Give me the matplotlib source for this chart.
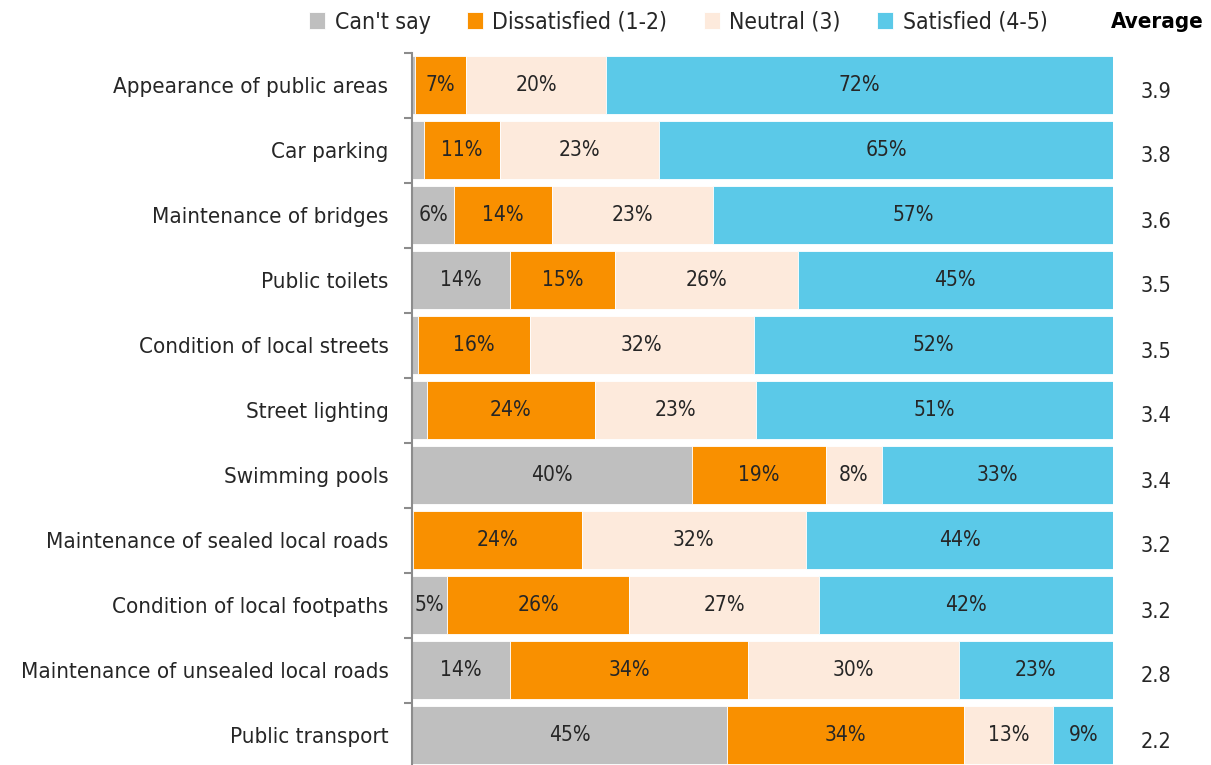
import matplotlib
matplotlib.use("Agg")
import matplotlib.pyplot as plt
from matplotlib import font_manager as fm
import numpy as np

categories = ["Appearance of public areas", "Car parking", "Maintenance of bridges",
              "Public toilets", "Condition of local streets", "Street lighting",
              "Swimming pools", "Maintenance of sealed local roads",
              "Condition of local footpaths", "Maintenance of unsealed local roads",
              "Public transport"]
# segment widths (percent)
cant_say     = [0.4, 1.7, 6, 14, 0.8, 2.1, 40, 0.2, 5, 14, 45]
dissatisfied = [7.3, 10.8, 14, 15, 16, 24, 19, 24, 26, 34, 33.7]
neutral      = [20, 22.8, 23, 26, 32, 23, 8, 32, 27, 30, 12.8]
satisfied    = [72.3, 64.7, 57, 45, 51.2, 50.9, 33, 43.8, 42, 22, 8.5]
# printed labels (rounded values shown on the chart)
cant_say_lbl     = [None, None, "6%", "14%", None, None, "40%", None, "5%", "14%", "45%"]
dissatisfied_lbl = ["7%", "11%", "14%", "15%", "16%", "24%", "19%", "24%", "26%", "34%", "34%"]
neutral_lbl      = ["20%", "23%", "23%", "26%", "32%", "23%", "8%", "32%", "27%", "30%", "13%"]
satisfied_lbl    = ["72%", "65%", "57%", "45%", "52%", "51%", "33%", "44%", "42%", "23%", "9%"]
averages     = ["3.9", "3.8", "3.6", "3.5", "3.5", "3.4", "3.4", "3.2", "3.2", "2.8", "2.2"]
series_names = ["Can't say", "Dissatisfied (1-2)", "Neutral (3)", "Satisfied (4-5)"]
colors = ["#BFBFBF", "#F99000", "#FDEADC", "#5BC9E8"]

stretch = "normal"
if any("Condensed" in f.fname and "DejaVuSans" in f.fname for f in fm.fontManager.ttflist):
    stretch = "condensed"
plt.rcParams["font.family"] = ["DejaVu Sans"]

W, H = 1211, 765
fig = plt.figure(figsize=(W / 100, H / 100), dpi=100)
left = 412 / W
right = 1113 / W
top = 1 - 52.5 / H
bottom = 1 - 767.5 / H
ax = fig.add_axes([left, bottom, right - left, top - bottom])

n = len(categories)
y = np.arange(n)
data = [cant_say, dissatisfied, neutral, satisfied]
labels = [cant_say_lbl, dissatisfied_lbl, neutral_lbl, satisfied_lbl]
lefts = np.zeros(n)
for vals, lbls, c, name in zip(data, labels, colors, series_names):
    vals = np.array(vals, dtype=float)
    ax.barh(y, vals, left=lefts, height=0.88, color=c, edgecolor="white",
            linewidth=0.6, label=name)
    for yi, (l, v, t) in enumerate(zip(lefts, vals, lbls)):
        if t:
            ax.text(l + v / 2, yi, t, ha="center", va="center",
                    fontsize=15, color="#262626", fontstretch=stretch)
    lefts += vals

ax.set_xlim(0, 100)
ax.set_ylim(n - 0.5, -0.5)
ax.set_yticks(y)
ax.set_yticklabels(categories, fontsize=16, color="#262626", fontstretch=stretch)
ax.tick_params(axis="y", length=0, pad=17)
ax.set_yticks(np.arange(-0.5, n, 1.0), minor=True)
ax.tick_params(axis="y", which="minor", length=6, width=1.5, color="#8C8C8C")
ax.set_xticks([])
for s in ["top", "right", "bottom"]:
    ax.spines[s].set_visible(False)
ax.spines["left"].set_color("#8C8C8C")
ax.spines["left"].set_linewidth(1.5)

for yi, a in enumerate(averages):
    ax.text(106.1, yi + 0.1, a, ha="center", va="center", fontsize=15.5,
            color="#262626", fontstretch=stretch)

fig.text(1157 / W, 1 - 22 / H, "Average", ha="center", va="center",
         fontsize=16, fontweight="bold", color="black", fontstretch=stretch)

leg = fig.legend(loc="center right", bbox_to_anchor=(1068 / W, 1 - 22 / H),
                 ncol=4, frameon=False, handlelength=0.7, handleheight=0.7,
                 handletextpad=0.4, columnspacing=1.6,
                 prop={"size": 16.5, "stretch": stretch})
for t in leg.get_texts():
    t.set_color("#262626")

fig.savefig("out.png", dpi=100)
